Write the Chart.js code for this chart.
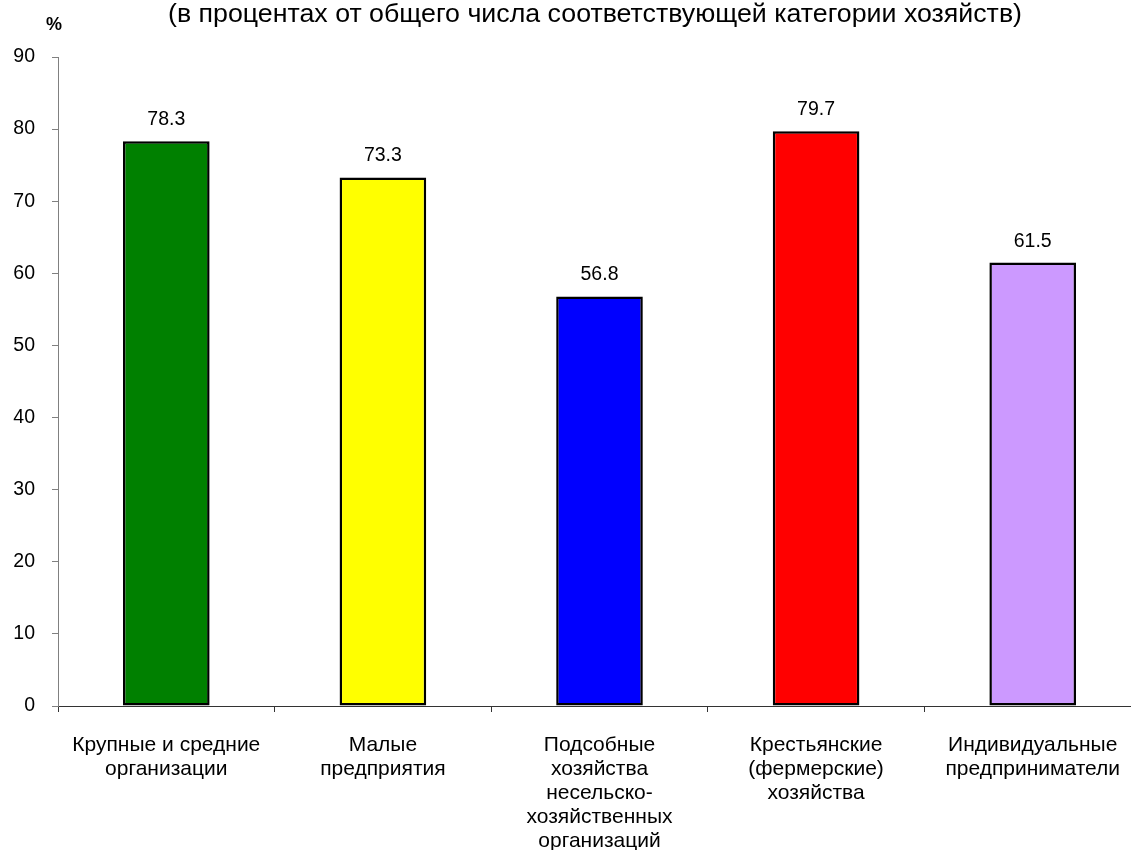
<!DOCTYPE html>
<html><head><meta charset="utf-8">
<script src="https://cdn.jsdelivr.net/npm/chart.js@4"></script>
<style>html,body{margin:0;padding:0;background:#fff;overflow:hidden;width:1131px;height:850px}#wrap{width:1145px;height:850px;position:relative}</style>
</head><body><div id="wrap"><canvas id="c" width="1145" height="850"></canvas></div>
<script>
const categories = [
  ["Крупные и средние", "организации"],
  ["Малые", "предприятия"],
  ["Подсобные", "хозяйства", "несельско-", "хозяйственных", "организаций"],
  ["Крестьянские", "(фермерские)", "хозяйства"],
  ["Индивидуальные", "предприниматели"]
];
const values = [78.3, 73.3, 56.8, 79.7, 61.5];
const barColors = ["#008000", "#FFFF00", "#0000FF", "#FF0000", "#CC99FF"];
const yTicks = [0, 10, 20, 30, 40, 50, 60, 70, 80, 90];
const titleText = "(в процентах от общего числа соответствующей категории хозяйств)";
const unitText = "%";

const FONT = '"Liberation Sans", Arial, sans-serif';

const textPlugin = {
  id: 'texts',
  afterDatasetsDraw(chart) {
    const ctx = chart.ctx;
    ctx.save();
    ctx.fillStyle = '#000';
    ctx.textAlign = 'center';
    ctx.textBaseline = 'alphabetic';
    ctx.font = '19.5px ' + FONT;
    const meta = chart.getDatasetMeta(0);
    meta.data.forEach((bar, i) => {
      ctx.fillText(values[i].toFixed(1), bar.x, bar.y - 16);
    });
    ctx.font = 'bold 18px ' + FONT;
    ctx.fillText(unitText, 54, 30);
    // title, slightly widened like the reference
    ctx.font = '25px ' + FONT;
    const w = ctx.measureText(titleText).width;
    const sx = 854 / w;
    ctx.translate(595, 22);
    ctx.scale(sx, 1);
    ctx.fillText(titleText, 0, 0);
    ctx.restore();
  }
};

new Chart(document.getElementById('c'), {
  type: 'bar',
  data: {
    labels: categories,
    datasets: [{
      data: values,
      backgroundColor: barColors,
      borderColor: '#000',
      borderWidth: 2.5,
      borderSkipped: false,
      barPercentage: 0.4,
      categoryPercentage: 1.0
    }]
  },
  options: {
    responsive: false,
    animation: false,
    layout: { padding: { top: 57, right: 4, left: 0, bottom: 0 } },
    plugins: { legend: { display: false }, tooltip: { enabled: false }, title: { display: false } },
    scales: {
      x: {
        grid: { display: true, drawOnChartArea: false, offset: true, tickLength: 6, color: '#333' },
        border: { display: true, color: '#333', width: 1 },
        ticks: { color: '#000', font: { family: FONT, size: 21, lineHeight: 1.143 }, padding: 21, maxRotation: 0, autoSkip: false },
        afterFit(scale) { scale.height = 144; }
      },
      y: {
        min: 0, max: 90,
        afterBuildTicks(scale) { scale.ticks = yTicks.map(v => ({ value: v })); },
        grid: { display: true, drawOnChartArea: false, tickLength: 6, color: '#808080' },
        border: { display: true, color: '#808080', width: 1 },
        ticks: { color: '#000', font: { family: FONT, size: 19.5 }, padding: 17 },
        afterFit(scale) { scale.width = 58; }
      }
    }
  },
  plugins: [textPlugin]
});
</script></body></html>
